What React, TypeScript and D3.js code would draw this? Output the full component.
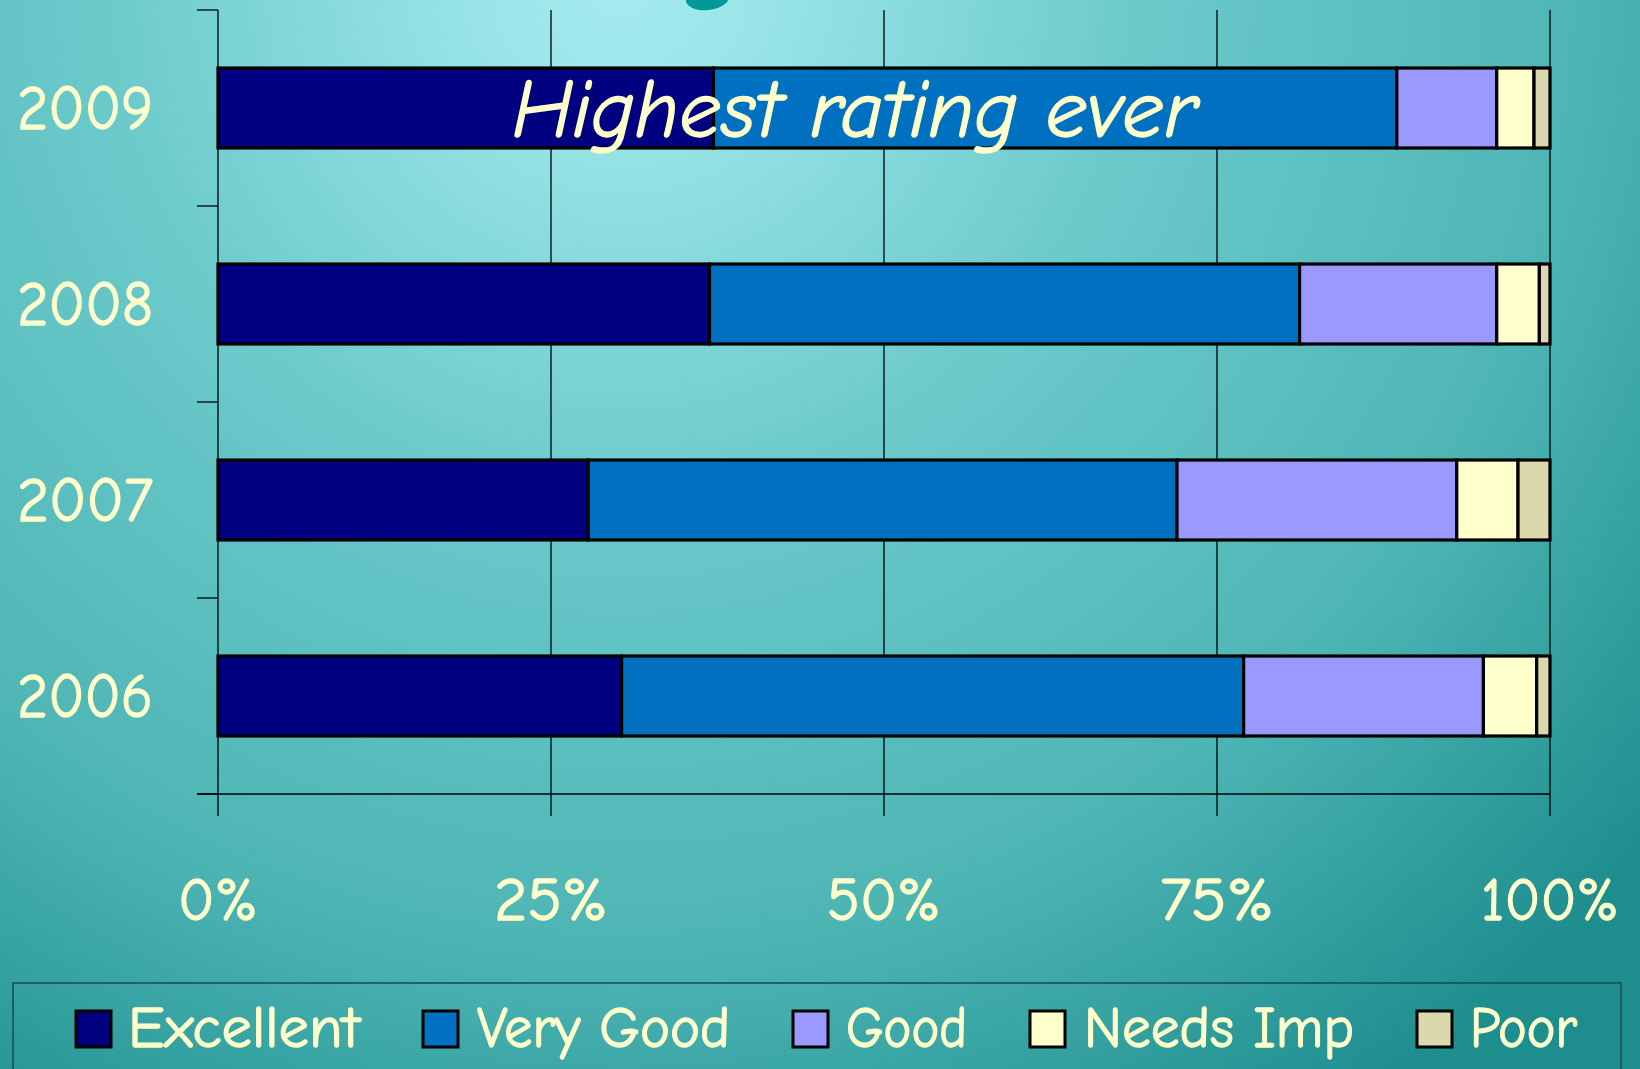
import React, { useMemo } from "react";
import * as d3 from "d3";

// Survey ratings per year, percent of responses
const years = ["2006", "2007", "2008", "2009"];
const excellent = [30.3, 27.8, 36.9, 37.2];
const veryGood = [46.7, 44.2, 44.3, 51.3];
const good = [18.0, 21.0, 14.8, 7.5];
const needsImp = [4.0, 4.6, 3.2, 2.8];
const poor = [1.0, 2.4, 0.8, 1.2];

const seriesNames = ["Excellent", "Very Good", "Good", "Needs Imp", "Poor"];
const seriesColors = ["#000080", "#0070C0", "#9999FF", "#FFFFCC", "#DAD8AC"];
const xTicks = [0, 25, 50, 75, 100];
const xTickLabels = ["0%", "25%", "50%", "75%", "100%"];
const callout = "Highest rating ever";

const W = 1640;
const H = 1069;
const TEXT = "#FFFFCC";
const FONT = "'Comic Sans MS', 'Comic Neue', Lato, 'Open Sans', sans-serif";

// legend layout: swatch left edge and label extent
const legendLayout = [
  { sx: 76, tx: 128, tw: 232 },
  { sx: 423, tx: 477, tw: 253 },
  { sx: 793, tx: 846, tw: 121 },
  { sx: 1030, tx: 1084, tw: 270 },
  { sx: 1417, tx: 1470, tw: 107 },
];
const xLabelWidths = [80, 114, 114, 114, 138];

const textStyle = {
  fill: TEXT,
  stroke: TEXT,
  strokeWidth: 1.3,
  lengthAdjust: "spacingAndGlyphs",
} as const;

export default function App() {
  const rows = useMemo(
    () =>
      years.map((y, i) => ({
        year: y,
        Excellent: excellent[i],
        "Very Good": veryGood[i],
        Good: good[i],
        "Needs Imp": needsImp[i],
        Poor: poor[i],
      })),
    []
  );

  const stacked = useMemo(() => d3.stack<any>().keys(seriesNames)(rows), [rows]);

  const x = d3.scaleLinear().domain([0, 100]).range([218, 1550]);
  const y = d3
    .scaleBand<string>()
    .domain([...years].reverse())
    .range([10, 794])
    .paddingInner(0.592)
    .paddingOuter(0.296);

  const plotTop = 10;
  const plotBottom = 794;
  const gridBottom = 816;
  const step = y.step();
  const bandEdges = d3.range(years.length + 1).map((i) => plotTop + i * step);

  return (
    <svg
      width={W}
      height={H}
      viewBox={`0 0 ${W} ${H}`}
      style={{ position: "absolute", left: 0, top: 0, display: "block" }}
      fontFamily={FONT}
    >
      <defs>
        <radialGradient id="bg" cx="620" cy="-20" r="1350" gradientUnits="userSpaceOnUse">
          <stop offset="0" stopColor="#A4EBEF" />
          <stop offset="0.1" stopColor="#9AE5E8" />
          <stop offset="0.38" stopColor="#6CCACB" />
          <stop offset="0.72" stopColor="#4DB4B4" />
          <stop offset="0.85" stopColor="#36A2A2" />
          <stop offset="1" stopColor="#1E8D8D" />
        </radialGradient>
      </defs>
      <rect x={0} y={0} width={W} height={H} fill="url(#bg)" />

      {/* descender of the slide heading peeking in at the top */}
      <path d="M686,2 C690,10 702,12 714,9 C722,7 727,3 728,0 L686,0 Z" fill="#009999" />

      {/* vertical gridlines */}
      {xTicks.map((t) => (
        <line
          key={`g${t}`}
          x1={x(t)}
          x2={x(t)}
          y1={plotTop}
          y2={gridBottom}
          stroke="#000"
          strokeWidth={1.3}
        />
      ))}
      {/* category axis baseline and ticks */}
      <line x1={197} x2={x(100)} y1={plotBottom} y2={plotBottom} stroke="#000" strokeWidth={1.3} />
      {bandEdges.map((e, i) => (
        <line key={`t${i}`} x1={197} x2={x(0)} y1={e} y2={e} stroke="#000" strokeWidth={1.3} />
      ))}

      {/* stacked bars */}
      {stacked.map((s, si) => (
        <g key={s.key} fill={seriesColors[si]}>
          {s.map((d: any) => (
            <rect
              key={d.data.year}
              x={x(d[0])}
              y={y(d.data.year)}
              width={x(d[1]) - x(d[0])}
              height={y.bandwidth()}
              stroke="#000"
              strokeWidth={3.2}
            />
          ))}
        </g>
      ))}

      {/* year labels */}
      {years.map((yr) => (
        <text
          key={yr}
          x={85}
          y={(y(yr) as number) + y.bandwidth() / 2 + 21}
          textAnchor="middle"
          fontSize={62}
          textLength={136}
          {...textStyle}
        >
          {yr}
        </text>
      ))}

      {/* percent labels */}
      {xTicks.map((t, i) => (
        <text
          key={`l${t}`}
          x={x(t)}
          y={920}
          textAnchor="middle"
          fontSize={61}
          textLength={xLabelWidths[i]}
          {...textStyle}
        >
          {xTickLabels[i]}
        </text>
      ))}

      {/* callout on the latest year */}
      <text
        x={512}
        y={(y("2009") as number) + y.bandwidth() / 2 + 29}
        fontSize={82}
        fontStyle="italic"
        textLength={685}
        {...textStyle}
      >
        {callout}
      </text>

      {/* legend */}
      <rect x={13} y={983} width={1608} height={120} fill="none" stroke="#1E4E50" strokeWidth={1.6} />
      {seriesNames.map((n, i) => (
        <g key={n}>
          <rect
            x={legendLayout[i].sx}
            y={1011}
            width={35}
            height={36}
            fill={seriesColors[i]}
            stroke="#000"
            strokeWidth={3}
          />
          <text
            x={legendLayout[i].tx}
            y={1047}
            fontSize={58}
            textLength={legendLayout[i].tw}
            {...textStyle}
          >
            {n}
          </text>
        </g>
      ))}
    </svg>
  );
}
